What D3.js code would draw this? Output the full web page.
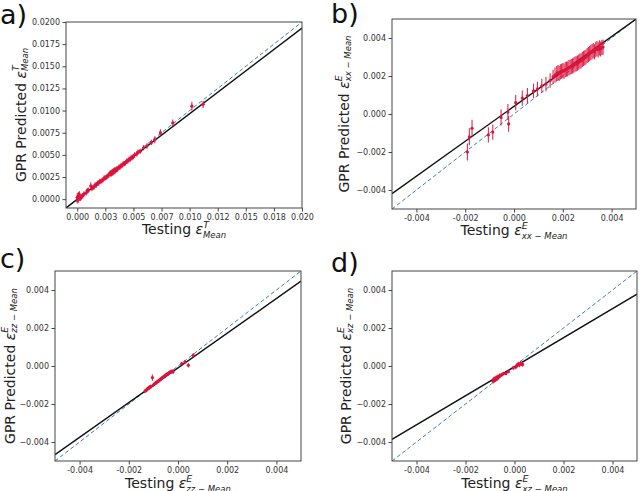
<!DOCTYPE html>
<html><head><meta charset="utf-8">
<script src="https://cdn.jsdelivr.net/npm/d3@7"></script>
<style>body{margin:0;background:#fff}svg{display:block}text{font-family:"DejaVu Sans",sans-serif}</style>
</head><body>
<svg id="c" width="640" height="491"></svg>
<script>
// ---------- data ----------
const aX = [0.0000,0.0000,0.0001,0.0001,0.0002,0.0002,0.0003,0.0004,0.0005,0.0006,0.0008,0.0009,0.0010,0.0012,0.0013,0.0014,0.0015,0.0016,0.0017,0.0018,0.0019,0.0020,0.0021,0.0022,0.0023,0.0024,0.0025,0.0026,0.0027,0.0028,0.0029,0.0030,0.0030,0.0031,0.0031,0.0032,0.0032,0.0033,0.0033,0.0034,0.0034,0.0035,0.0035,0.0036,0.0037,0.0038,0.0039,0.0040,0.0041,0.0042,0.0043,0.0044,0.0045,0.0046,0.0047,0.0048,0.0049,0.0050,0.0051,0.0053,0.0054,0.0056,0.0059,0.0062,0.0066,0.0069,0.0074,0.0085,0.0102,0.0112];
const aY = [0.0002,-0.0001,0.0004,0.0001,0.0005,0.0002,0.0001,0.0003,0.0004,0.0006,0.0007,0.0010,0.0010,0.0015,0.0012,0.0013,0.0014,0.0016,0.0016,0.0018,0.0018,0.0020,0.0020,0.0021,0.0022,0.0024,0.0024,0.0025,0.0026,0.0027,0.0029,0.0028,0.0030,0.0031,0.0029,0.0032,0.0030,0.0033,0.0031,0.0033,0.0032,0.0034,0.0033,0.0034,0.0036,0.0036,0.0038,0.0038,0.0040,0.0040,0.0041,0.0043,0.0043,0.0045,0.0045,0.0047,0.0047,0.0048,0.0050,0.0051,0.0053,0.0054,0.0058,0.0060,0.0064,0.0067,0.0075,0.0086,0.0105,0.0107];
const aE = [0.0005,0.0004,0.0004,0.0005,0.0004,0.0004,0.0003,0.0003,0.0003,0.0003,0.0003,0.0003,0.0003,0.0004,0.0003,0.0003,0.0003,0.0003,0.0003,0.0003,0.0003,0.0003,0.0003,0.0003,0.0003,0.0003,0.0003,0.0003,0.0003,0.0003,0.0003,0.0003,0.0003,0.0003,0.0003,0.0003,0.0003,0.0003,0.0003,0.0003,0.0003,0.0003,0.0003,0.0003,0.0003,0.0003,0.0003,0.0003,0.0003,0.0003,0.0003,0.0003,0.0003,0.0003,0.0003,0.0003,0.0003,0.0003,0.0003,0.0003,0.0003,0.0003,0.0003,0.0003,0.0003,0.0004,0.0004,0.0004,0.0005,0.0004];

const bX = [-0.00191,-0.00183,-0.00172,-0.00105,-0.00087,-0.00053,-0.00025,-0.00022,0.00007,0.00034,0.00055,0.00080,0.00096,0.00114,0.00131,0.00148,0.00160,0.00168,0.00175,0.00180,0.00185,0.00190,0.00195,0.00200,0.00205,0.00210,0.00215,0.00220,0.00225,0.00230,0.00235,0.00240,0.00245,0.00250,0.00255,0.00260,0.00265,0.00270,0.00275,0.00280,0.00285,0.00290,0.00295,0.00300,0.00305,0.00310,0.00315,0.00320,0.00325,0.00330,0.00335,0.00340,0.00345,0.00350,0.00355,0.00360,0.00365];
const bY = [-0.00200,-0.00120,-0.00075,-0.00110,-0.00095,-0.00018,0.00010,-0.00052,0.00060,0.00084,0.00097,0.00122,0.00132,0.00148,0.00158,0.00176,0.00195,0.00205,0.00212,0.00218,0.00214,0.00222,0.00225,0.00228,0.00226,0.00234,0.00236,0.00238,0.00244,0.00246,0.00250,0.00253,0.00257,0.00262,0.00264,0.00268,0.00273,0.00278,0.00280,0.00287,0.00292,0.00296,0.00300,0.00308,0.00312,0.00318,0.00324,0.00328,0.00334,0.00327,0.00340,0.00344,0.00338,0.00348,0.00342,0.00350,0.00352];
const bE = [0.00045,0.00045,0.00045,0.00040,0.00040,0.00042,0.00042,0.00042,0.00040,0.00040,0.00040,0.00038,0.00038,0.00038,0.00038,0.00038,0.00036,0.00040,0.00040,0.00040,0.00040,0.00040,0.00040,0.00040,0.00040,0.00040,0.00040,0.00040,0.00040,0.00040,0.00040,0.00040,0.00040,0.00040,0.00040,0.00040,0.00040,0.00040,0.00040,0.00040,0.00040,0.00040,0.00040,0.00040,0.00040,0.00040,0.00040,0.00040,0.00040,0.00040,0.00040,0.00040,0.00040,0.00040,0.00040,0.00040,0.00040];

const cX = [-0.00134,-0.00130,-0.00127,-0.00124,-0.00120,-0.00117,-0.00113,-0.00110,-0.00104,-0.00100,-0.00096,-0.00092,-0.00088,-0.00084,-0.00080,-0.00076,-0.00072,-0.00068,-0.00064,-0.00060,-0.00056,-0.00052,-0.00048,-0.00044,-0.00040,-0.00036,-0.00032,-0.00028,-0.00024,-0.00020,0.00015,0.00028,0.00042,0.00062];
const cY = [-0.00132,-0.00128,-0.00125,-0.00120,-0.00118,-0.00113,-0.00110,-0.00108,-0.00061,-0.00100,-0.00095,-0.00090,-0.00088,-0.00082,-0.00080,-0.00075,-0.00070,-0.00066,-0.00062,-0.00058,-0.00055,-0.00050,-0.00047,-0.00043,-0.00040,-0.00036,-0.00032,-0.00030,-0.00028,-0.00030,0.00013,0.00021,0.00004,0.00056];
const cE = [0.00010,0.00010,0.00010,0.00010,0.00010,0.00010,0.00010,0.00010,0.00016,0.00010,0.00010,0.00010,0.00010,0.00010,0.00010,0.00010,0.00010,0.00010,0.00010,0.00010,0.00010,0.00010,0.00010,0.00010,0.00010,0.00010,0.00010,0.00010,0.00010,0.00012,0.00008,0.00010,0.00012,0.00012];

const dX = [-0.00087,-0.00085,-0.00083,-0.00080,-0.00078,-0.00075,-0.00072,-0.00070,-0.00066,-0.00062,-0.00058,-0.00052,-0.00045,-0.00035,-0.00025,-0.00005,0.00005,0.00010,0.00015,0.00020,0.00025,0.00030,0.00033];
const dY = [-0.00080,-0.00070,-0.00076,-0.00066,-0.00072,-0.00062,-0.00068,-0.00058,-0.00060,-0.00052,-0.00050,-0.00046,-0.00040,-0.00040,-0.00030,-0.00010,-0.00005,0.00002,0.00010,0.00005,0.00015,0.00012,0.00008];
const dE = [0.00012,0.00012,0.00012,0.00012,0.00012,0.00012,0.00012,0.00012,0.00012,0.00012,0.00010,0.00010,0.00010,0.00008,0.00008,0.00010,0.00012,0.00012,0.00012,0.00012,0.00012,0.00012,0.00012];

// fit lines [slope, intercept]
const fitA = [0.967, -0.00003];
const fitB = [0.919, 0.00040];
const fitC = [0.913, -0.00010];
const fitD = [0.765, -0.00004];

// ticks
const aTicks = [0, 0.0025, 0.005, 0.0075, 0.01, 0.0125, 0.015, 0.0175, 0.02];
const aXLabels = ["0.000","0.003","0.005","0.007","0.010","0.012","0.015","0.018","0.020"];
const aYLabels = ["0.0000","0.0025","0.0050","0.0075","0.0100","0.0125","0.0150","0.0175","0.0200"];
const eTicks = [-0.004, -0.002, 0, 0.002, 0.004];
const eXLabels = ["-0.004","-0.002","0.000","0.002","0.004"];
const eYLabels = ["\u22120.004","\u22120.002","0.000","0.002","0.004"];

const panels = [
  {id:"a", letter:"a)", lx:0, ly:24, box:[66,302,22,208], dom:[-0.001,0.02], ticks:aTicks, xl:aXLabels, yl:aYLabels, X:aX, Y:aY, E:aE, fit:fitA, sup:"T", sub:"Mean", ylx:21, xlb:234},
  {id:"b", letter:"b)", lx:331, ly:23, box:[392,636,19,209], dom:[-0.005,0.005], ticks:eTicks, xl:eXLabels, yl:eYLabels, X:bX, Y:bY, E:bE, fit:fitB, sup:"E", sub:"xx \u2212 Mean", ylx:344, xlb:235},
  {id:"c", letter:"c)", lx:0, ly:268, box:[55,301,271,461], dom:[-0.005,0.005], ticks:eTicks, xl:eXLabels, yl:eYLabels, X:cX, Y:cY, E:cE, fit:fitC, sup:"E", sub:"zz \u2212 Mean", ylx:10, xlb:488},
  {id:"d", letter:"d)", lx:331, ly:272, box:[392,637,271,461], dom:[-0.005,0.005], ticks:eTicks, xl:eXLabels, yl:eYLabels, X:dX, Y:dY, E:dE, fit:fitD, sup:"E", sub:"xz \u2212 Mean", ylx:346, xlb:488}
];

const svg = d3.select("#c");
const RED = "#dc143c";

function epsLabel(sel, prefix, sup, sub) {
  sel.append("tspan").text(prefix);
  sel.append("tspan").attr("font-style","italic").text("\u03b5");
  sel.append("tspan").attr("font-size",9.5).attr("font-style","italic").attr("dy",-6.5).text(sup);
  sel.append("tspan").attr("font-size",8.5).attr("font-style","italic").attr("dx",-6).attr("dy",10).text(sub);
}

panels.forEach(p => {
  const [L,R,T,B] = p.box;
  const x = d3.scaleLinear().domain(p.dom).range([L,R]);
  const y = d3.scaleLinear().domain(p.dom).range([B,T]);
  const g = svg.append("g");

  g.append("clipPath").attr("id","clip"+p.id).append("rect")
    .attr("x",L).attr("y",T).attr("width",R-L).attr("height",B-T);

  const plot = g.append("g").attr("clip-path","url(#clip"+p.id+")");
  plot.append("line")
    .attr("x1",x(p.dom[0])).attr("y1",y(p.dom[0]))
    .attr("x2",x(p.dom[1])).attr("y2",y(p.dom[1]))
    .attr("stroke","#3a7fb8").attr("stroke-width",1).attr("stroke-dasharray","4,2.5");
  plot.append("line")
    .attr("x1",x(p.dom[0])).attr("y1",y(p.fit[0]*p.dom[0]+p.fit[1]))
    .attr("x2",x(p.dom[1])).attr("y2",y(p.fit[0]*p.dom[1]+p.fit[1]))
    .attr("stroke","#111").attr("stroke-width",1.4);

  const pts = p.X.map((v,i)=>({x:v, y:p.Y[i], e:p.E[i]}));
  plot.selectAll("line.eb").data(pts).enter().append("line").attr("class","eb")
    .attr("x1",d=>x(d.x)).attr("x2",d=>x(d.x))
    .attr("y1",d=>y(d.y-d.e)).attr("y2",d=>y(d.y+d.e))
    .attr("stroke",RED).attr("stroke-width",1.1).attr("opacity",0.9);
  plot.selectAll("circle").data(pts).enter().append("circle")
    .attr("cx",d=>x(d.x)).attr("cy",d=>y(d.y)).attr("r",1.6).attr("fill",RED);

  const xa = d3.axisBottom(x).tickValues(p.ticks).tickFormat((d,i)=>p.xl[i]).tickSize(3.5).tickPadding(2.5);
  const ya = d3.axisLeft(y).tickValues(p.ticks).tickFormat((d,i)=>p.yl[i]).tickSize(3.5).tickPadding(2.5);
  const gx = g.append("g").attr("transform",`translate(0,${B})`).call(xa);
  const gy = g.append("g").attr("transform",`translate(${L},0)`).call(ya);
  [gx,gy].forEach(a=>{
    a.select(".domain").remove();
    a.selectAll(".tick line").attr("stroke","#444");
    a.selectAll(".tick text").attr("fill","#333").attr("font-size",8).attr("font-family","DejaVu Sans");
  });
  g.append("rect").attr("x",L).attr("y",T).attr("width",R-L).attr("height",B-T)
    .attr("fill","none").attr("stroke","#444").attr("stroke-width",1);

  const xt = g.append("text").attr("x",(L+R)/2).attr("y",p.xlb).attr("text-anchor","middle")
    .attr("font-size",14).attr("fill","#222");
  epsLabel(xt, "Testing ", p.sup, p.sub);
  const yt = g.append("text").attr("transform",`translate(${p.ylx},${(T+B)/2}) rotate(-90)`)
    .attr("text-anchor","middle").attr("dominant-baseline","central").attr("font-size",14).attr("fill","#222");
  epsLabel(yt, "GPR Predicted ", p.sup, p.sub);

  g.append("text").attr("x",p.lx).attr("y",p.ly).attr("font-size",27).attr("fill","#111").text(p.letter);
});
</script>
</body></html>
